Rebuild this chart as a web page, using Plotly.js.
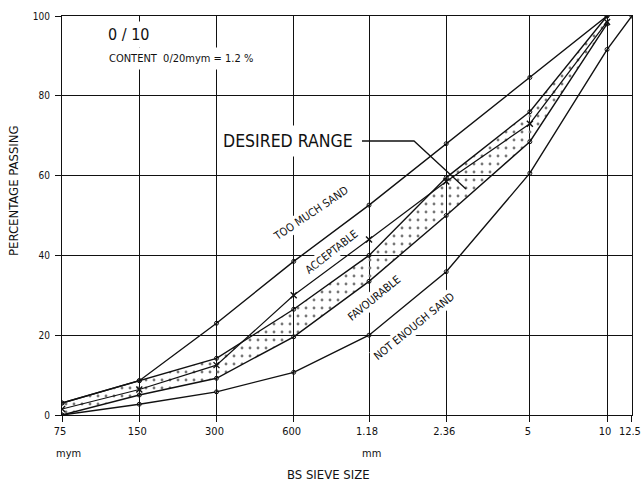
<!DOCTYPE html>
<html>
<head>
<meta charset="utf-8">
<script src="https://cdn.plot.ly/plotly-3.0.1.min.js"></script>
<style>
html,body{margin:0;padding:0;background:#fff;}
#chart{width:642px;height:481px;}
</style>
</head>
<body>
<div id="chart"></div>
<script>
// ---- data ----
const sieveSizesMM = [0.075, 0.15, 0.3, 0.6, 1.18, 2.36, 5, 10, 12.5];
const sieveLabels  = ['75', '150', '300', '600', '1.18', '2.36', '5', '10', '12.5'];
const bandSizesMM  = [0.075, 0.15, 0.3, 0.6, 1.18, 2.36, 5, 10];

const tooMuchSandLimit = [3, 8.6, 23, 38.5, 52.6, 68, 84.6, 100];
const desiredUpper     = [3, 8.6, 14.2, 26.5, 40, 59.5, 76, 100];
const desiredLower     = [0, 5, 9.2, 19.6, 33.5, 50, 68.5, 98];
const notEnoughSand    = [0, 2.7, 5.8, 10.7, 20, 35.9, 60.6, 91.6, 100];
const measuredPassing  = [1.5, 6.4, 12.5, 30, 44, 58.5, 73, 98.5];

const yTicks = [0, 20, 40, 60, 80, 100];

// ---- layout helpers (pixel -> paper) ----
const W = 642, H = 481;
const M = {l: 62, r: 10, t: 16, b: 66};
const PW = W - M.l - M.r, PH = H - M.t - M.b;
const px = x => (x - M.l) / PW;
const py = y => (M.t + PH - y) / PH;

const FONT = '"DejaVu Sans Condensed", "DejaVu Sans", sans-serif';
const INK = '#111111';

const lineStyle = {color: INK, width: 1.4};
const vertexMarker = {symbol: 'circle-open', size: 4, color: INK, line: {width: 1, color: INK}};

const traces = [
  {x: bandSizesMM, y: tooMuchSandLimit, mode: 'lines+markers', line: lineStyle, marker: vertexMarker, hoverinfo: 'skip'},
  {x: sieveSizesMM, y: notEnoughSand, mode: 'lines+markers', line: lineStyle, marker: vertexMarker, hoverinfo: 'skip'},
  {x: bandSizesMM, y: desiredLower, mode: 'lines+markers', line: lineStyle, marker: vertexMarker, hoverinfo: 'skip'},
  {x: bandSizesMM, y: desiredUpper, mode: 'lines+markers', line: lineStyle, marker: vertexMarker,
   fill: 'tonexty', fillcolor: 'rgba(0,0,0,0)',
   fillpattern: {shape: '.', size: 8, solidity: 0.1, fgcolor: '#777', bgcolor: 'rgba(255,255,255,0)'},
   hoverinfo: 'skip'},
  {x: bandSizesMM, y: measuredPassing, mode: 'lines+markers', line: {color: INK, width: 1.2},
   marker: {symbol: 'x-thin-open', size: 6, color: INK, line: {width: 1.4, color: INK}}, hoverinfo: 'skip'}
];

const labelFont = s => ({family: FONT, size: s, color: INK});
const ann = (text, x, y, size, extra) => Object.assign({
  text: text, x: px(x), y: py(y), xref: 'paper', yref: 'paper',
  xanchor: 'center', yanchor: 'middle',
  showarrow: false, font: labelFont(size)
}, extra || {});

const annotations = [
  ann('0 / 10', 104, 34, 16, {xanchor: 'left', bgcolor: '#fff', borderpad: 3}),
  ann('CONTENT  0/20mym = 1.2 %', 104, 58, 11, {xanchor: 'left', bgcolor: '#fff', borderpad: 4}),
  ann('DESIRED RANGE', 288, 141, 17.5, {bgcolor: '#fff', borderpad: 5}),
  ann('TOO MUCH SAND', 311, 213, 11, {textangle: -34, bgcolor: '#fff', borderpad: 1}),
  ann('ACCEPTABLE', 331, 252, 11, {textangle: -38, bgcolor: '#fff', borderpad: 1}),
  ann('FAVOURABLE', 374, 298, 11, {textangle: -39, bgcolor: '#fff', borderpad: 1}),
  ann('NOT ENOUGH SAND', 414, 326, 11, {textangle: -39, bgcolor: '#fff', borderpad: 1}),
  ann('mym', 68, 453, 11),
  ann('mm', 371, 453, 11),
  ann('BS SIEVE SIZE', 328, 474, 13),
  ann('PERCENTAGE PASSING', 13, 191, 13, {textangle: -90})
];

const shapes = [
  {type: 'path', xref: 'paper', yref: 'paper',
   path: `M ${px(362)},${py(141)} L ${px(414)},${py(141)} L ${px(466)},${py(189)}`,
   line: {color: INK, width: 1.3}}
];

const layout = {
  width: W, height: H,
  margin: M,
  paper_bgcolor: '#fff', plot_bgcolor: '#fff',
  showlegend: false,
  font: {family: FONT, color: INK},
  xaxis: {
    type: 'log',
    range: [Math.log10(0.075) - 0.0004, Math.log10(12.5) + 0.0004],
    tickmode: 'array', tickvals: sieveSizesMM, ticktext: sieveLabels,
    ticklabeloverflow: 'allow',
    ticklabelshift: -2,
    showgrid: true, gridcolor: INK, gridwidth: 1,
    showline: true, linecolor: INK, linewidth: 1, mirror: true,
    ticks: 'outside', ticklen: 6, tickcolor: INK, tickwidth: 1,
    tickfont: {family: FONT, size: 11, color: INK},
    zeroline: false, fixedrange: true
  },
  yaxis: {
    range: [0, 100],
    tickmode: 'array', tickvals: yTicks,
    showgrid: true, gridcolor: INK, gridwidth: 1,
    showline: true, linecolor: INK, linewidth: 1, mirror: true,
    ticks: 'outside', ticklen: 6, tickcolor: INK, tickwidth: 1,
    tickfont: {family: FONT, size: 10, color: INK},
    ticklabelstandoff: 3,
    zeroline: false, fixedrange: true
  },
  annotations: annotations,
  shapes: shapes
};

Plotly.newPlot('chart', traces, layout, {displayModeBar: false});
</script>
</body>
</html>
